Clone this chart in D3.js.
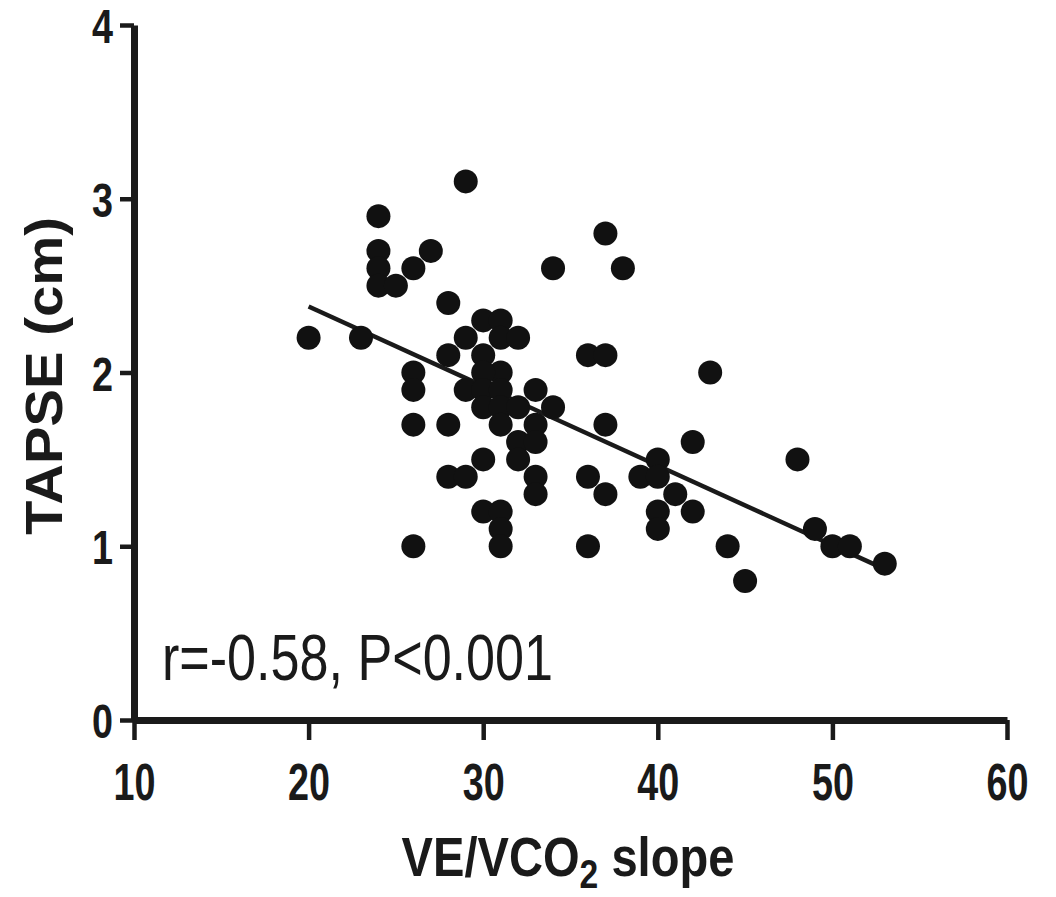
<!DOCTYPE html>
<html lang="en">
  <head>
    <meta charset="UTF-8" />
    <title>TAPSE vs VE/VCO2 slope</title>
    <script src="https://d3js.org/d3.v7.min.js"></script>
    <style>
      body {
        margin: 0;
        background: #fff;
      }
      svg text {
        font-family: "Liberation Sans", Arial, Helvetica, sans-serif;
        fill: #1a1a1a;
      }
      .axis path,
      .axis line {
        stroke: #1a1a1a;
      }
    </style>
  </head>
  <body>
    <svg width="1056" height="897"></svg>
    <script>
      // values
      const slopeX = [
        20, 23, 24, 24, 24, 24, 25, 26, 27, 29,
        26, 26, 26, 26, 28, 28, 28, 28, 29,
        29, 30, 31, 31, 32, 30, 31, 30, 29, 30, 31, 30, 31, 32, 33, 34,
        31, 33, 32, 33, 32, 30, 33, 33, 30, 31, 31, 31,
        34, 37, 38, 36, 37, 43, 37, 42, 40, 39, 40, 41, 40, 42, 40,
        36, 37, 36, 44, 45, 48, 49, 50, 51, 53
      ];
      const tapse = [
        2.2, 2.2, 2.9, 2.7, 2.6, 2.5, 2.5, 2.6, 2.7, 3.1,
        2.0, 1.9, 1.7, 1.0, 2.4, 2.1, 1.7, 1.4, 1.4,
        2.2, 2.3, 2.3, 2.2, 2.2, 2.1, 2.0, 2.0, 1.9, 1.9, 1.9, 1.8, 1.8, 1.8, 1.9, 1.8,
        1.7, 1.7, 1.6, 1.6, 1.5, 1.5, 1.4, 1.3, 1.2, 1.2, 1.1, 1.0,
        2.6, 2.8, 2.6, 2.1, 2.1, 2.0, 1.7, 1.6, 1.5, 1.4, 1.4, 1.3, 1.2, 1.2, 1.1,
        1.4, 1.3, 1.0, 1.0, 0.8, 1.5, 1.1, 1.0, 1.0, 0.9
      ];
      const xTicks = [10, 20, 30, 40, 50, 60];
      const yTicks = [0, 1, 2, 3, 4];
      // fitted line y = a + b*x, drawn over the data range
      const fitA = 3.296;
      const fitB = -0.0458;
      const fitRange = [20, 53];
      const note = "r=-0.58, P<0.001";

      const svg = d3.select("svg");

      const x = d3.scaleLinear().domain([10, 60]).range([134, 1007]);
      const y = d3.scaleLinear().domain([0, 4]).range([720, 25]);

      // x axis
      const gx = svg
        .append("g")
        .attr("class", "axis")
        .attr("transform", "translate(0,720)")
        .call(
          d3.axisBottom(x).tickValues(xTicks).tickFormat(d3.format("d")).tickSize(20).tickSizeOuter(0)
        );
      gx.select(".domain").attr("stroke-width", 7);
      gx.selectAll(".tick line").attr("stroke-width", 4.5);
      gx.selectAll(".tick text")
        .attr("y", 80)
        .attr("dy", null)
        .attr("font-size", 51)
        .attr("font-weight", "bold")
        .attr("textLength", 42)
        .attr("lengthAdjust", "spacingAndGlyphs");

      // y axis
      const gy = svg
        .append("g")
        .attr("class", "axis")
        .attr("transform", "translate(134,0)")
        .call(
          d3.axisLeft(y).tickValues(yTicks).tickFormat(d3.format("d")).tickSize(14).tickSizeOuter(0)
        );
      gy.select(".domain").attr("stroke-width", 7);
      gy.selectAll(".tick line").attr("stroke-width", 4.5);
      gy.selectAll(".tick text")
        .attr("x", -21)
        .attr("dy", "0.36em")
        .attr("font-size", 49)
        .attr("font-weight", "bold")
        .attr("textLength", 21)
        .attr("lengthAdjust", "spacingAndGlyphs");
      svg.selectAll(".axis text").attr("fill", "#1a1a1a");

      // regression line
      svg
        .append("line")
        .attr("x1", x(fitRange[0]))
        .attr("y1", y(fitA + fitB * fitRange[0]))
        .attr("x2", x(fitRange[1]))
        .attr("y2", y(fitA + fitB * fitRange[1]))
        .attr("stroke", "#1a1a1a")
        .attr("stroke-width", 4.5);

      // points
      svg
        .append("g")
        .selectAll("circle")
        .data(slopeX.map((d, i) => [d, tapse[i]]))
        .join("circle")
        .attr("cx", (d) => x(d[0]))
        .attr("cy", (d) => y(d[1]))
        .attr("r", 12)
        .attr("fill", "#111");

      // annotation
      svg
        .append("text")
        .attr("x", 162)
        .attr("y", 680)
        .attr("font-size", 64)
        .attr("textLength", 391)
        .attr("lengthAdjust", "spacingAndGlyphs")
        .text(note);

      // x label with subscript, squeezed to the measured width
      const xl = svg
        .append("g")
        .attr("transform", "translate(568,876)")
        .append("text")
        .attr("text-anchor", "middle")
        .attr("font-size", 56)
        .attr("font-weight", "bold");
      xl.append("tspan").text("VE/VCO");
      xl.append("tspan").attr("font-size", 40).attr("dy", 12).text("2");
      xl.append("tspan").attr("dy", -12).text(" slope");
      const kx = 333 / xl.node().getBBox().width;
      xl.attr("transform", `scale(${kx},1)`);

      // y label
      const yl = svg
        .append("g")
        .attr("transform", "translate(62,376)")
        .append("text")
        .attr("text-anchor", "middle")
        .attr("font-size", 52)
        .attr("font-weight", "bold")
        .attr("transform", "rotate(-90)")
        .text("TAPSE (cm)");
      const ky = 318 / yl.node().getBBox().width;
      yl.attr("transform", `rotate(-90) scale(${ky},1)`);
    </script>
  </body>
</html>
